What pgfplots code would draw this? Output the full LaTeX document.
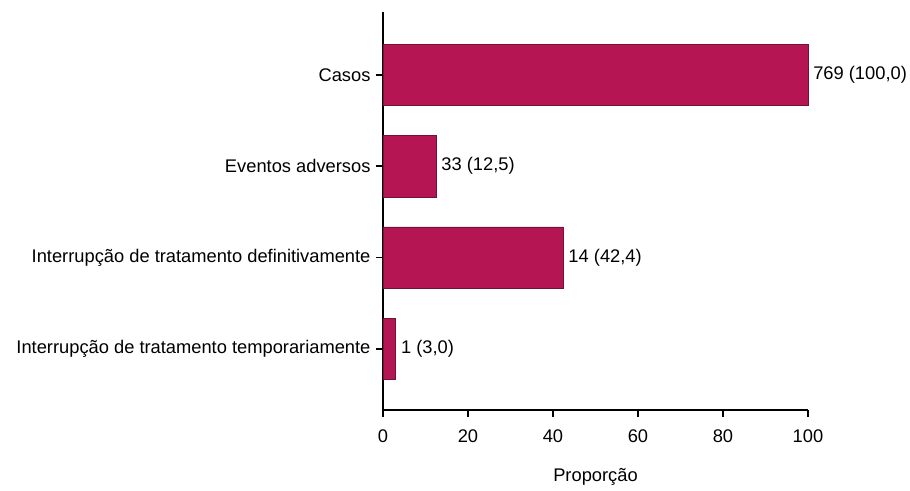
\documentclass[border=0pt]{standalone}
\usepackage{pgfplots}
\pgfplotsset{compat=1.18}
\usepackage{fontspec}
\setmainfont{Liberation Sans}
\definecolor{barc}{RGB}{181,21,82}
\definecolor{barl}{RGB}{110,20,55}
\newcommand{\fs}{\fontsize{18.3}{21}\selectfont}
\begin{document}
\begin{tikzpicture}
\begin{axis}[
  xbar,
  scale only axis,
  width=425pt, height=398pt,
  xmin=0, xmax=100, ymin=-0.67, ymax=3.69,
  axis lines*=left,
  axis line style={line width=1.8pt, black},
  tick align=outside,
  major tick length=7pt,
  tick style={line width=1.8pt, black},
  xtick={0,20,...,100},
  ytick={0,1,2,3},
  yticklabels={Interrupção de tratamento temporariamente, Interrupção de tratamento definitivamente, Eventos adversos, Casos},
  bar width=0.67,
  /pgf/number format/assume math mode=true,
  tick label style={font=\fs},
  xticklabel style={yshift=-9pt},
  yticklabel style={xshift=-2pt},
  xlabel={Proporção},
  xlabel style={yshift=-19pt},
  label style={font=\fs},
  nodes near coords,
  point meta=explicit symbolic,
  nodes near coords style={font=\fs, anchor=west, inner sep=0pt, xshift=5pt, black},
  clip=false,
]
\addplot[fill=barc, draw=barl, line width=0.6pt] table[row sep=\\, col sep=semicolon, x=x, y=y, meta=lab] {
x;y;lab\\
100;3;769 (100,0)\\
12.5;2;33 (12,5)\\
42.4;1;14 (42,4)\\
3.0;0;1 (3,0)\\
};
\end{axis}
\pgfresetboundingbox
\path ([shift={(-383pt,-81pt)}]current axis.south west) rectangle ([shift={(102pt,12pt)}]current axis.north east);
\end{tikzpicture}
\end{document}
